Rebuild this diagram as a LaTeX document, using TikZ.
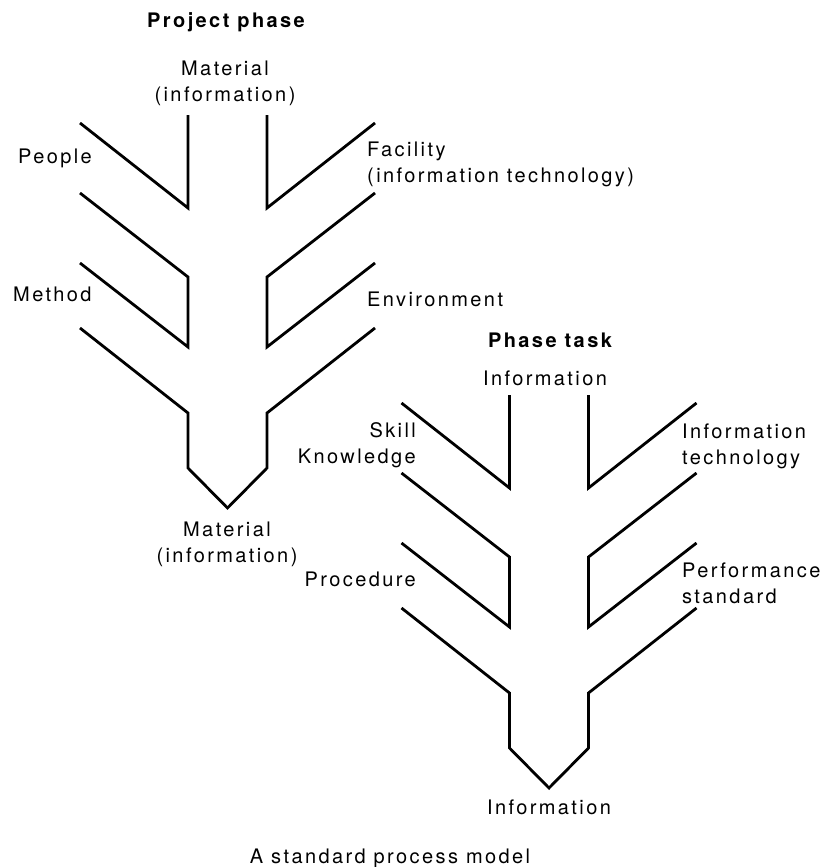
\documentclass[tikz,border=0pt]{standalone}
\usepackage{fontspec}
\setmainfont{TeX Gyre Heros}[LetterSpace=12]
\begin{document}
\begin{tikzpicture}[x=1pt,y=-1pt,
  bone/.style={line width=2.8pt,line join=miter},
  lbl/.style={inner sep=0pt,font=\fontsize{20}{26}\selectfont},
  ttl/.style={inner sep=0pt,font=\fontsize{20}{26}\selectfont\bfseries},
  fishbone/.pic={
    % upper pair of inputs
    \draw[bone] (80,123) -- (188,208) -- (188,115);
    \draw[bone] (375,123) -- (267,208) -- (267,115);
    % middle pair of inputs
    \draw[bone] (80,193) -- (188,277) -- (188,347) -- (80,263);
    \draw[bone] (375,193) -- (267,277) -- (267,347) -- (375,263);
    % lower inputs merging into the output point
    \draw[bone] (80,328) -- (188,413) -- (188,468) -- (227.5,508)
                -- (267,468) -- (267,413) -- (375,328);
  }]
\useasboundingbox (0,0) rectangle (826,867);

% Project phase (multi-line labels are placed by their last baseline)
\pic (pp) at (0,0) {fishbone};
\node[ttl,anchor=base] (ppTitle) at (226,28) {Project phase};
\node[lbl,anchor=base,align=center] (ppIn) at (225,101) {Material\\(information)};
\node[lbl,anchor=base west] (ppPeople) at (18,163) {People};
\node[lbl,anchor=base west,align=left] (ppFac) at (367,182) {Facility\\(information technology)};
\node[lbl,anchor=base west] (ppMethod) at (13,301) {Method};
\node[lbl,anchor=base west] (ppEnv) at (367,306) {Environment};
\node[lbl,anchor=base,align=center] (ppOut) at (227,562) {Material\\(information)};

% Phase task
\pic (pt) at (321.5,280) {fishbone};
\node[ttl,anchor=base] (ptTitle) at (550,347) {Phase task};
\node[lbl,anchor=base] (ptIn) at (545,385) {Information};
\node[lbl,anchor=base east,align=right] (ptSkill) at (416,463) {Skill\\Knowledge};
\node[lbl,anchor=base west,align=left] (ptIT) at (682,464) {Information\\technology};
\node[lbl,anchor=base east] (ptProc) at (416,586) {Procedure};
\node[lbl,anchor=base west,align=left] (ptPerf) at (682,603) {Performance\\standard};
\node[lbl,anchor=base] (ptOut) at (549,814) {Information};

% Caption
\node[lbl,anchor=base] (caption) at (390,863) {A standard process model};
\end{tikzpicture}
\end{document}
